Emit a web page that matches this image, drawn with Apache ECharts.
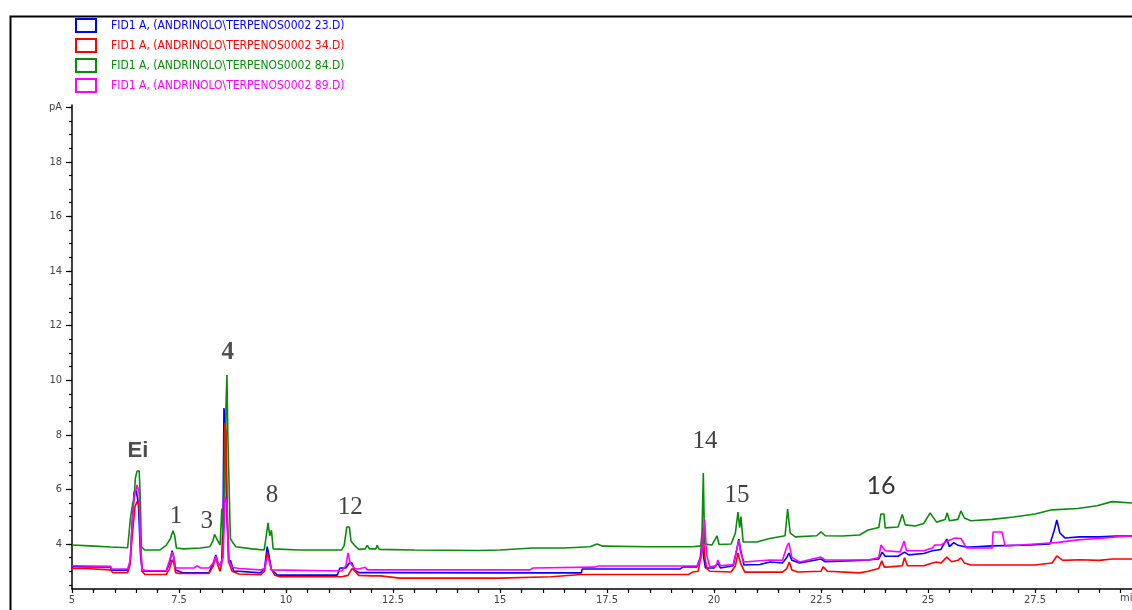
<!DOCTYPE html>
<html><head><meta charset="utf-8">
<script src="https://cdn.jsdelivr.net/npm/echarts@6/dist/echarts.min.js"></script>
<style>html,body{margin:0;padding:0;background:#fff}#c{width:1132px;height:610px}</style>
</head><body><div id="c"></div>
<script>
const seriesNames = [
  'FID1 A, (ANDRINOLO\\TERPENOS0002 23.D)',
  'FID1 A, (ANDRINOLO\\TERPENOS0002 34.D)',
  'FID1 A, (ANDRINOLO\\TERPENOS0002 84.D)',
  'FID1 A, (ANDRINOLO\\TERPENOS0002 89.D)'
];
const seriesColors = ['#0000ff', '#ff0000', '#0b8a0b', '#ff00ff'];

const xLabelTicks = [5, 7.5, 10, 12.5, 15, 17.5, 20, 22.5, 25, 27.5];
const yLabelTicks = [4, 6, 8, 10, 12, 14, 16, 18, 20];

const peakNames = ['Ei', '1', '3', '4', '8', '12', '14', '15', '16'];
const peakTimes = [6.54, 7.43, 8.15, 8.64, 9.67, 11.50, 19.79, 20.54, 23.90];
const peakLabelLevels = [7.41, 4.99, 4.84, 11.0, 5.76, 5.32, 7.74, 5.79, 6.12];

const blueData = [[5.0,3.17],[5.9,3.15],[5.92,3.04],[6.3,3.04],[6.36,3.3],[6.40,4.6],[6.45,5.9],[6.50,5.95],[6.55,5.5],[6.60,3.6],[6.64,3.0],[6.8,3.0],[7.2,3.0],[7.28,3.3],[7.34,3.75],[7.38,3.5],[7.42,3.05],[7.6,2.94],[8.2,2.94],[8.3,3.3],[8.36,3.6],[8.41,3.3],[8.46,3.2],[8.50,3.4],[8.53,5.0],[8.55,8.98],[8.58,8.5],[8.62,5.0],[8.66,3.3],[8.70,3.4],[8.74,3.4],[8.78,3.0],[8.9,3.0],[9.4,2.94],[9.5,3.1],[9.56,3.9],[9.60,3.6],[9.66,3.05],[9.8,2.86],[11.2,2.86],[11.26,3.12],[11.4,3.12],[11.48,3.3],[11.54,3.3],[11.6,3.05],[11.7,2.95],[12.5,2.95],[15.0,2.94],[16.9,2.94],[16.92,3.08],[19.2,3.08],[19.28,3.16],[19.6,3.16],[19.68,3.5],[19.72,4.1],[19.76,3.5],[19.8,3.12],[20.0,3.12],[20.09,3.3],[20.15,3.12],[20.45,3.2],[20.52,3.7],[20.58,4.18],[20.62,3.8],[20.7,3.23],[21.07,3.25],[21.31,3.34],[21.6,3.3],[21.7,3.5],[21.75,3.67],[21.82,3.4],[22.0,3.3],[22.5,3.45],[22.6,3.35],[23.4,3.4],[23.6,3.41],[23.85,3.45],[23.93,3.7],[24.0,3.55],[24.3,3.55],[24.45,3.7],[24.55,3.6],[24.9,3.65],[25.1,3.75],[25.3,3.8],[25.44,4.18],[25.5,3.9],[25.6,4.05],[25.7,3.95],[25.86,3.9],[26.0,3.89],[26.5,3.93],[27.4,3.96],[27.85,4.0],[27.95,4.5],[28.01,4.88],[28.08,4.4],[28.2,4.22],[28.55,4.26],[29.0,4.26],[29.4,4.29],[29.77,4.29],[30,4.3]];

const redData = [[5.0,3.1],[5.3,3.1],[5.32,3.05],[5.9,3.05],[5.95,2.95],[6.3,2.95],[6.35,3.2],[6.40,4.15],[6.47,5.36],[6.52,5.55],[6.57,5.4],[6.60,4.0],[6.64,3.0],[6.7,2.88],[7.2,2.88],[7.28,3.1],[7.34,3.42],[7.38,3.3],[7.42,2.95],[7.5,2.92],[8.2,2.92],[8.3,3.2],[8.36,3.5],[8.41,3.2],[8.46,3.0],[8.50,3.3],[8.53,4.0],[8.57,8.43],[8.60,8.1],[8.63,5.0],[8.67,3.3],[8.74,3.0],[8.9,2.9],[9.4,2.87],[9.5,3.0],[9.56,3.67],[9.60,3.5],[9.65,3.1],[9.74,2.85],[9.86,2.8],[11.3,2.8],[11.45,2.85],[11.54,3.1],[11.61,3.0],[11.7,2.85],[12.0,2.83],[12.2,2.83],[12.66,2.75],[15.0,2.75],[16.2,2.8],[16.9,2.88],[19.4,2.88],[19.5,2.97],[19.63,3.0],[19.70,3.6],[19.74,4.6],[19.78,3.6],[19.83,3.1],[19.9,3.0],[20.4,2.97],[20.5,3.2],[20.56,3.66],[20.62,3.3],[20.72,2.97],[21.6,2.97],[21.7,3.1],[21.76,3.34],[21.82,3.05],[21.95,2.97],[22.5,3.0],[22.55,3.16],[22.65,3.0],[23.4,2.94],[23.6,3.0],[23.85,3.1],[23.92,3.38],[23.98,3.15],[24.1,3.16],[24.4,3.2],[24.45,3.5],[24.52,3.2],[24.9,3.2],[25.1,3.3],[25.2,3.34],[25.3,3.3],[25.44,3.52],[25.55,3.35],[25.7,3.4],[25.77,3.49],[25.85,3.3],[26.0,3.23],[27.5,3.23],[27.9,3.3],[28.01,3.56],[28.15,3.4],[28.55,3.42],[29.0,3.4],[29.3,3.45],[29.77,3.45],[30,3.46]];

const greenData = [[5.0,3.96],[5.42,3.93],[5.90,3.89],[6.30,3.86],[6.33,3.9],[6.37,5.0],[6.42,5.5],[6.45,5.6],[6.48,6.4],[6.52,6.67],[6.57,6.67],[6.60,5.5],[6.62,3.9],[6.70,3.78],[7.06,3.78],[7.20,3.95],[7.30,4.2],[7.36,4.48],[7.40,4.3],[7.44,3.85],[7.6,3.82],[8.0,3.85],[8.22,3.9],[8.29,4.1],[8.33,4.35],[8.37,4.42],[8.41,4.1],[8.46,3.96],[8.50,5.3],[8.53,4.3],[8.57,6.0],[8.60,9.2],[8.62,10.19],[8.64,8.07],[8.67,8.0],[8.70,4.2],[8.76,4.04],[8.83,3.9],[9.2,3.82],[9.49,3.78],[9.53,4.2],[9.58,4.77],[9.62,4.3],[9.66,4.5],[9.70,3.82],[10.3,3.78],[11.3,3.78],[11.36,3.95],[11.42,4.62],[11.48,4.62],[11.52,4.1],[11.6,3.95],[11.7,3.8],[11.85,3.82],[11.9,3.95],[11.95,3.82],[12.1,3.82],[12.13,3.95],[12.18,3.8],[13.0,3.78],[14.5,3.76],[15.0,3.78],[15.77,3.85],[16.5,3.85],[17.1,3.9],[17.27,4.0],[17.4,3.92],[18.5,3.9],[19.5,3.9],[19.69,3.93],[19.72,4.4],[19.75,6.6],[19.78,4.0],[19.95,3.96],[20.07,4.3],[20.12,3.98],[20.4,4.0],[20.5,4.4],[20.56,5.17],[20.60,4.6],[20.63,5.0],[20.68,4.07],[21.0,4.07],[21.3,4.2],[21.66,4.3],[21.72,5.28],[21.78,4.4],[21.9,4.26],[22.4,4.3],[22.5,4.44],[22.6,4.3],[23.0,4.29],[23.4,4.33],[23.6,4.51],[23.85,4.6],[23.9,5.1],[23.97,5.1],[24.0,4.59],[24.3,4.62],[24.4,5.08],[24.47,4.7],[24.7,4.66],[24.9,4.75],[25.05,5.14],[25.2,4.8],[25.4,4.9],[25.45,5.14],[25.5,4.85],[25.7,4.9],[25.77,5.21],[25.85,4.95],[26.0,4.85],[26.5,4.9],[27.0,4.99],[27.5,5.1],[27.9,5.25],[28.5,5.3],[28.95,5.4],[29.3,5.55],[29.77,5.5],[30,5.55]];

const pinkData = [[5.0,3.2],[5.9,3.18],[5.92,3.08],[6.3,3.08],[6.36,3.4],[6.40,4.6],[6.45,5.7],[6.52,6.16],[6.57,5.85],[6.60,4.0],[6.64,3.05],[6.8,3.02],[7.2,3.02],[7.28,3.4],[7.34,3.7],[7.38,3.5],[7.42,3.12],[7.6,3.12],[7.85,3.12],[7.92,3.2],[8.0,3.12],[8.2,3.12],[8.3,3.3],[8.36,3.55],[8.41,3.3],[8.46,3.2],[8.53,3.5],[8.58,5.72],[8.62,5.5],[8.66,3.4],[8.74,3.15],[8.9,3.1],[9.4,3.05],[9.5,3.1],[9.56,3.5],[9.60,3.4],[9.66,3.05],[11.3,3.01],[11.4,3.2],[11.45,3.67],[11.50,3.3],[11.6,3.1],[11.7,3.08],[11.85,3.15],[11.9,3.05],[12.1,3.05],[12.3,3.05],[15.7,3.05],[15.77,3.12],[17.2,3.15],[17.3,3.19],[19.6,3.19],[19.7,3.5],[19.78,4.9],[19.83,3.6],[19.9,3.16],[20.05,3.2],[20.09,3.41],[20.15,3.2],[20.45,3.25],[20.52,3.7],[20.58,4.15],[20.62,3.7],[20.7,3.34],[21.3,3.41],[21.6,3.4],[21.7,3.9],[21.75,4.04],[21.82,3.5],[22.0,3.34],[22.5,3.52],[22.6,3.41],[23.6,3.41],[23.85,3.5],[23.9,3.96],[24.0,3.75],[24.35,3.71],[24.44,4.1],[24.5,3.75],[24.9,3.75],[25.1,3.85],[25.16,3.96],[25.3,3.96],[25.44,4.1],[25.63,4.22],[25.77,4.2],[25.9,3.85],[26.5,3.85],[26.52,4.44],[26.73,4.44],[26.8,3.93],[27.15,3.96],[27.5,4.0],[28.0,4.05],[28.5,4.15],[29.0,4.2],[29.4,4.26],[29.77,4.29],[30,4.3]];

const chartData = [blueData, redData, greenData, pinkData];

const xMinorTicks = [];
for (let v = 5; v <= 30.001; v += 0.5) xMinorTicks.push(+v.toFixed(1));
const yMinorTicks = [];
for (let v = 2.5; v <= 20.001; v += 0.5) yMinorTicks.push(+v.toFixed(1));

const narrow = "'Liberation Sans Narrow', 'DejaVu Sans Condensed', 'Liberation Sans', sans-serif";
const serif = "'Liberation Serif', 'DejaVu Serif', serif";

const chart = echarts.init(document.getElementById('c'), null, {renderer: 'canvas'});

const lineSeries = chartData.map((d, i) => ({
  name: seriesNames[i],
  type: 'line',
  data: d,
  showSymbol: false,
  symbol: 'none',
  lineStyle: {color: seriesColors[i], width: 1.6},
  itemStyle: {color: seriesColors[i]},
  z: [2, 3, 4, 5][i],
  animation: false,
  silent: true
}));

function peakLabelStyle(n) {
  if (n === '16') return {fontFamily: 'Lato, Carlito, sans-serif', fontSize: 25, color: '#000'};
  if (n === 'Ei') return {fontFamily: "'Liberation Sans', Arial, sans-serif", fontSize: 22, fontWeight: 'bold', color: '#222'};
  if (n === '4') return {fontFamily: serif, fontSize: 25, fontWeight: 'bold', color: '#222'};
  return {fontFamily: serif, fontSize: 25, color: '#111'};
}

const labelSeries = {
  type: 'scatter',
  symbolSize: 0,
  silent: true,
  animation: false,
  z: 10,
  data: peakNames.map((n, i) => ({
    name: n,
    value: [peakTimes[i], peakLabelLevels[i]],
    label: peakLabelStyle(n)
  })),
  label: {show: true, position: 'inside', formatter: p => p.name}
};

chart.setOption({
  backgroundColor: '#fff',
  animation: false,
  legend: {
    orient: 'vertical',
    left: 75,
    top: 18,
    padding: 0,
    itemWidth: 20,
    itemHeight: 13,
    itemGap: 5,
    selectedMode: false,
    textStyle: {fontFamily: narrow, fontSize: 12},
    data: seriesNames.map((n, i) => ({
      name: n,
      icon: 'rect',
      itemStyle: {color: 'rgba(255,255,255,0)', borderColor: seriesColors[i], borderWidth: 2},
      textStyle: {color: seriesColors[i], padding: [0, 0, 0, 10]}
    }))
  },
  grid: {left: 72, right: -10, top: 105, bottom: 21, outerBoundsMode: 'none', containLabel: false},
  xAxis: {
    type: 'value', min: 5, max: 30,
    splitLine: {show: false},
    axisLine: {lineStyle: {color: '#000', width: 1.5}},
    axisTick: {show: true, length: 4, customValues: xMinorTicks, lineStyle: {color: '#000', width: 1.2}},
    axisLabel: {customValues: xLabelTicks, margin: 6, color: '#444', fontFamily: narrow, fontSize: 11, formatter: v => String(v)}
  },
  yAxis: [{
    type: 'value', min: 2.35, max: 20.08,
    splitLine: {show: false},
    axisLine: {show: true, lineStyle: {color: '#000', width: 1.5}},
    axisTick: {show: true, length: 3, customValues: yMinorTicks, lineStyle: {color: '#000', width: 1.2}},
    axisLabel: {customValues: yLabelTicks, margin: 10, color: '#444', fontFamily: narrow, fontSize: 11,
      formatter: v => (v === 20 ? 'pA' : String(v))}
  }, {
    type: 'value', min: 2.35, max: 20.08, position: 'left',
    splitLine: {show: false},
    axisLine: {show: false},
    axisTick: {show: true, length: 6, customValues: [4, 6, 8, 10, 12, 14, 16, 18, 20], lineStyle: {color: '#000', width: 1.2}},
    axisLabel: {show: false}
  }],
  graphic: [
    {type: 'rect', left: 8, top: 14, shape: {x: 0, y: 0, width: 1300, height: 800},
      style: {fill: 'none', stroke: '#000', lineWidth: 2}, z: 0, silent: true},
    {type: 'text', left: 1120, top: 593, style: {text: 'min', fill: '#444', font: "11px " + narrow}, silent: true}
  ],
  series: lineSeries.concat([labelSeries])
});
</script>
</body></html>
